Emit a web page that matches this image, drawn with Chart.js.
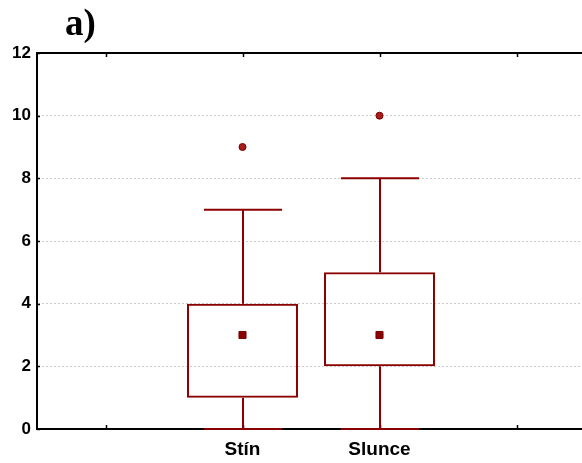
<!DOCTYPE html>
<html>
<head>
<meta charset="utf-8">
<script src="https://cdn.jsdelivr.net/npm/chart.js@4/dist/chart.umd.min.js"></script>
<style>
  html, body { margin: 0; padding: 0; background: #fff; overflow: hidden; }
  canvas { display: block; }
</style>
</head>
<body>
<canvas id="c" width="585" height="463"></canvas>
<script>
// Box plot: exposure groups, outer slots left empty
const categories = ['', 'Stín', 'Slunce', ''];
const whiskerLow = [null, 0, 0, null];
const boxLow = [null, 1, 2, null];
const medians = [null, 3, 3, null];
const boxHigh = [null, 4, 5, null];
const whiskerHigh = [null, 7, 8, null];
const outliers = [null, 9, 10, null];
const yTicks = [0, 2, 4, 6, 8, 10, 12];
const panelLabel = 'a)';

const boxColor = '#8b0000';

// whiskers and their caps, placed through the chart's scales
const whiskerPlugin = {
  id: 'whiskers',
  afterDatasetsDraw(chart) {
    const { ctx, scales: { x, y } } = chart;
    const step = x.getPixelForValue(1) - x.getPixelForValue(0);
    const capHalf = step * 0.285;
    ctx.save();
    ctx.strokeStyle = boxColor;
    ctx.lineWidth = 2;
    categories.forEach((c, i) => {
      if (boxLow[i] == null) return;
      const cx = Math.round(x.getPixelForValue(i));
      const line = (x1, y1, x2, y2) => {
        ctx.beginPath();
        ctx.moveTo(x1, y1);
        ctx.lineTo(x2, y2);
        ctx.stroke();
      };
      line(cx, y.getPixelForValue(whiskerLow[i]), cx, y.getPixelForValue(boxLow[i]));
      line(cx, y.getPixelForValue(boxHigh[i]), cx, y.getPixelForValue(whiskerHigh[i]));
      const yl = y.getPixelForValue(whiskerLow[i]);
      const yh = y.getPixelForValue(whiskerHigh[i]);
      line(cx - capHalf, yl, cx + capHalf, yl);
      line(cx - capHalf, yh, cx + capHalf, yh);
    });
    ctx.restore();
  }
};

// top frame line and small inward tick marks
const framePlugin = {
  id: 'frame',
  beforeDatasetsDraw(chart) {
    const { ctx, chartArea: a, scales: { x, y } } = chart;
    ctx.save();
    ctx.strokeStyle = '#000';
    ctx.lineWidth = 2;
    ctx.beginPath();
    ctx.moveTo(a.left - 1, a.top);
    ctx.lineTo(a.right, a.top);
    ctx.stroke();
    ctx.lineWidth = 1.5;
    categories.forEach((c, i) => {
      const px = Math.round(x.getPixelForValue(i)) + 0.5;
      ctx.beginPath();
      ctx.moveTo(px, a.bottom); ctx.lineTo(px, a.bottom - 4);
      ctx.moveTo(px, a.top); ctx.lineTo(px, a.top + 4);
      ctx.stroke();
    });
    yTicks.forEach(v => {
      const py = Math.round(y.getPixelForValue(v)) + 0.5;
      ctx.beginPath();
      ctx.moveTo(a.left, py); ctx.lineTo(a.left + 3, py);
      ctx.stroke();
    });
    ctx.restore();
  }
};

// panel letter in the top-left corner
const panelPlugin = {
  id: 'panel',
  afterDraw(chart) {
    const { ctx } = chart;
    ctx.save();
    ctx.fillStyle = '#000';
    ctx.font = 'bold 37px "Liberation Serif", "Times New Roman", serif';
    ctx.textBaseline = 'alphabetic';
    ctx.textAlign = 'left';
    ctx.fillText(panelLabel, 65, 35);
    ctx.restore();
  }
};

// marker sizes: nothing drawn in the empty slots
const markerRadius = (r) => categories.map((c, i) => boxLow[i] == null ? 0 : r);

new Chart(document.getElementById('c'), {
  type: 'bar',
  data: {
    labels: categories,
    datasets: [
      {
        type: 'line',
        label: 'Odlehlé hodnoty',
        data: outliers,
        showLine: false,
        borderWidth: 0,
        pointStyle: 'circle',
        pointRadius: markerRadius(3.5),
        pointHoverRadius: markerRadius(3.5),
        pointBackgroundColor: '#a81c1c',
        pointBorderColor: '#7a0000',
        pointBorderWidth: 1
      },
      {
        type: 'line',
        label: 'Medián',
        data: medians,
        showLine: false,
        borderWidth: 0,
        pointStyle: 'rect',
        pointRadius: markerRadius(5),
        pointHoverRadius: markerRadius(5),
        pointBackgroundColor: '#8b0000',
        pointBorderColor: '#7a0000',
        pointBorderWidth: 1
      },
      {
        label: 'Kvartily',
        data: categories.map((c, i) => boxLow[i] == null ? null : [boxLow[i], boxHigh[i]]),
        backgroundColor: 'rgba(0,0,0,0)',
        borderColor: boxColor,
        borderWidth: 2,
        borderSkipped: false,
        barPercentage: 0.81,
        categoryPercentage: 1.0
      }
    ]
  },
  options: {
    responsive: false,
    animation: false,
    layout: { padding: { top: 53, right: 0, bottom: 0, left: 0 } },
    plugins: {
      legend: { display: false },
      tooltip: { enabled: false },
      title: { display: false }
    },
    scales: {
      x: {
        offset: true,
        grid: { display: false, drawTicks: false },
        border: { display: true, color: '#000', width: 2 },
        ticks: {
          color: '#000',
          padding: 9,
          font: { family: '"Liberation Sans", Arial, sans-serif', size: 19, weight: 'bold' }
        },
        afterFit(s) { s.height = 34; }
      },
      y: {
        min: 0,
        max: 12,
        afterBuildTicks(s) { s.ticks = yTicks.map(v => ({ value: v })); },
        grid: { color: '#cccccc', lineWidth: 1, drawTicks: false },
        border: { display: true, color: '#000', width: 2, dash: [2, 2] },
        ticks: {
          color: '#000',
          padding: 6,
          font: { family: '"Liberation Sans", Arial, sans-serif', size: 17, weight: 'bold' }
        },
        afterFit(s) { s.width = 37; }
      }
    }
  },
  plugins: [framePlugin, whiskerPlugin, panelPlugin]
});
</script>
</body>
</html>
